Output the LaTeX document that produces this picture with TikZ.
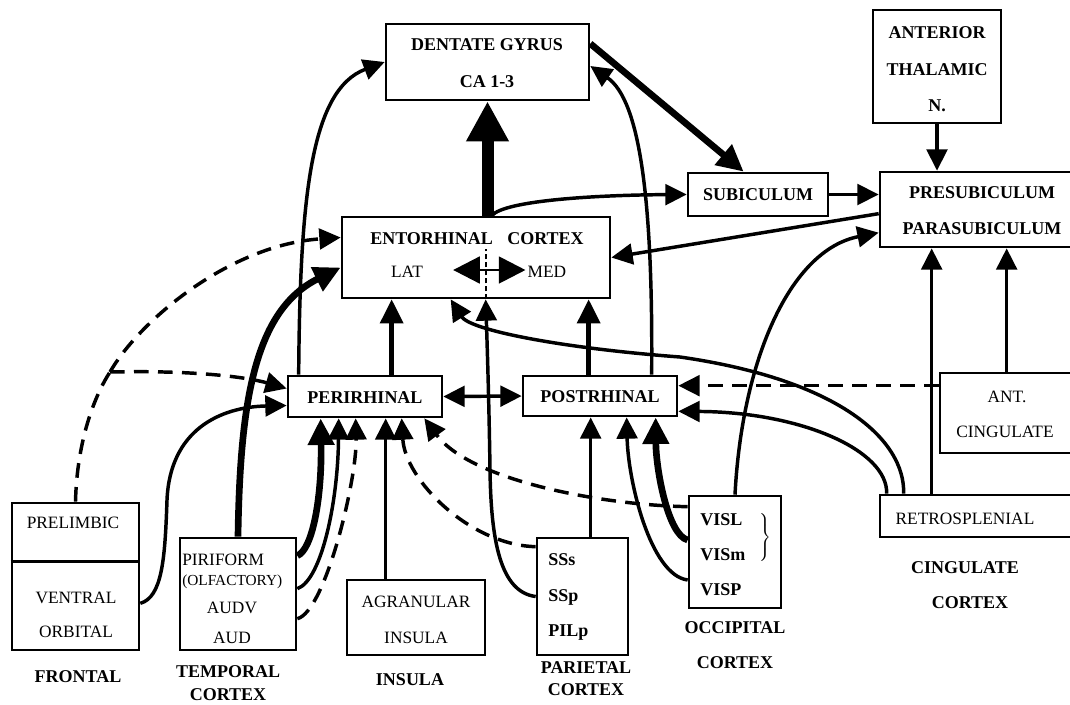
\documentclass[tikz,border=0pt]{standalone}
\usepackage{fontspec}
\setmainfont{Liberation Serif}
\usetikzlibrary{arrows.meta,calc,fit}

\begin{document}
\begin{tikzpicture}[x=0.75pt,y=-0.75pt,
  >={Triangle[length=16pt,width=15.5pt]},
  box/.style={draw,line width=2pt,inner sep=0pt},
  hd/.style={font=\fontsize{13.5}{15}\selectfont\bfseries,inner sep=0pt},
  tx/.style={font=\fontsize{13}{15}\selectfont,inner sep=0pt},
  sm/.style={font=\fontsize{11.5}{13}\selectfont,inner sep=0pt},
  ln/.style={line width=2.6pt,->},
  md/.style={line width=3.4pt,-{Triangle[length=18pt,width=17pt]}},
  tk/.style={line width=5pt,-{Triangle[length=20pt,width=19pt]}},
  hg/.style={line width=9pt,-{Triangle[length=30pt,width=30pt]}},
  dsh/.style={ln,dash pattern=on 11pt off 7pt}]

\useasboundingbox (0,0) rectangle (1070,704);
\fill[white] (0,0) rectangle (1070,704);
\clip (0,0) rectangle (1070,704);

% ---- boxes ----
\node[box,fit={(386,24) (589,100)}] (dg) {};
\node[box,fit={(873,10) (1001,123)}] (ath) {};
\node[box,fit={(688,173) (828,216)}] (sub) {};
\node[box,fit={(880,172) (1080,247)}] (pre) {};
\node[box,fit={(342,217) (610,298)}] (ec) {};
\node[box,fit={(288,376) (442,417)}] (per) {};
\node[box,fit={(523,376) (677,416)}] (pos) {};
\node[box,fit={(940,373) (1080,453)}] (ac) {};
\node[box,fit={(880,495) (1080,537)}] (rsp) {};
\node[box,fit={(12,503) (139,650)}] (pl) {};
\draw[line width=2pt] ($(pl.north west)+(0,60)$) -- ($(pl.north east)+(0,60)$);
\node[box,fit={(180,538) (296,650)}] (tmp) {};
\node[box,fit={(347,580) (485,655)}] (ins) {};
\node[box,fit={(537,538) (628,655)}] (par) {};
\node[box,fit={(689,496) (781,608)}] (occ) {};

% ---- texts ----
\node[hd] (dgA) at (487,45) {DENTATE GYRUS};
\node[hd] (dgB) at (487,82) {CA 1-3};
\node[hd] (athA) at (937,33) {ANTERIOR};
\node[hd] (athB) at (937,70) {THALAMIC};
\node[hd] (athC) at (937,106) {N.};
\node[hd] (subT) at (758,195) {SUBICULUM};
\node[hd] (preA) at (982,193) {PRESUBICULUM};
\node[hd] (preB) at (982,229) {PARASUBICULUM};
\node[hd] (ecT) at (477,239) {ENTORHINAL\hspace{0.8em}CORTEX};
\node[tx] (lat) at (407,272) {LAT};
\node[tx] (med) at (547,272) {MED};
\node[hd] (perT) at (365,398) {PERIRHINAL};
\node[hd] (posT) at (600,397) {POSTRHINAL};
\node[tx] (acA) at (1007,397) {ANT.};
\node[tx] (acB) at (1005,432) {CINGULATE};
\node[tx] (rspT) at (965,519) {RETROSPLENIAL};
\node[hd] (cinA) at (965,568) {CINGULATE};
\node[hd] (cinB) at (970,603) {CORTEX};
\node[tx] (plA) at (73,523) {PRELIMBIC};
\node[tx] (plB) at (76,598) {VENTRAL};
\node[tx] (plC) at (76,632) {ORBITAL};
\node[hd] (frl) at (78,677) {FRONTAL};
\node[tx,anchor=west] (tA) at (182,560) {PIRIFORM};
\node[sm,anchor=west] (tB) at (182,582) {(OLFACTORY)};
\node[tx] (tC) at (232,608) {AUDV};
\node[tx] (tD) at (232,638) {AUD};
\node[hd] (tmA) at (228,672) {TEMPORAL};
\node[hd] (tmB) at (228,695) {CORTEX};
\node[tx] (inA) at (416,602) {AGRANULAR};
\node[tx] (inB) at (416,638) {INSULA};
\node[hd] (inL) at (410,680) {INSULA};
\node[hd,anchor=west] (pA) at (548,560) {SSs};
\node[hd,anchor=west] (pB) at (548,597) {SSp};
\node[hd,anchor=west] (pC) at (548,633) {PILp};
\node[hd] (paA) at (586,668) {PARIETAL};
\node[hd] (paB) at (586,690) {CORTEX};
\node[hd,anchor=west] (oA) at (700,520) {VISL};
\node[hd,anchor=west] (oB) at (700,555) {VISm};
\node[hd,anchor=west] (oC) at (700,590) {VISP};
\node[inner sep=0pt] (brace) at (765,538) {$\left.\rule[-17pt]{0pt}{34pt}\right\}$};
\node[hd] (ocA) at (735,628) {OCCIPITAL};
\node[hd] (ocB) at (735,663) {CORTEX};

% ---- hippocampal core ----
\draw[hg] (ec.north -| dg.south) -- (dg.south);
\draw[tk] ($(dg.north east)+(0,21)$) -- ($(sub.north west)+(57,0)$);
\draw[ln] ($(ec.north west)+(151,0)$) .. controls (505,200) and (600,195) .. (sub.west);
\draw[ln] (sub.east) -- (sub.east -| pre.west);
\draw[ln] (ath.south) -- (ath.south |- pre.north);
\draw[ln] ($(pre.north west)+(0,43)$) -- (ec.east);
\draw[ln] (occ.north) .. controls (742,360) and (790,250) .. ($(pre.north west)+(0,62)$);
\draw[ln] ($(rsp.north west)+(53,0)$) -- ($(pre.south west)+(53,0)$);
\draw[ln] ($(ac.north west)+(68,0)$) -- ($(pre.south west)+(128,0)$);

% inside the entorhinal cortex
\draw[line width=2.2pt,{Triangle[length=20pt,width=20pt]}-{Triangle[length=20pt,width=20pt]}]
  ($(lat.east)+(30,-2)$) -- ($(med.west)+(-2,-2)$);
\draw[line width=1.5pt,dash pattern=on 4pt off 2pt] ($(ec.south west)+(145,0)$) -- ++(0,-50);

% ---- rhinal cortices ----
\draw[md] ($(per.north west)+(105,0)$) -- ($(ec.south west)+(51,0)$);
\draw[md] ($(pos.north west)+(67,0)$) -- ($(ec.south west)+(248,0)$);
\draw[ln,<->] (per.east) -- (pos.west);
\draw[ln] ($(per.north west)+(12,0)$) .. controls (300,200) and (310,90) .. (dg.west);
\draw[ln] ($(pos.north west)+(130,0)$) .. controls (653,200) and (640,100) .. ($(dg.east)+(0,4)$);

% ---- cingulate inputs ----
\draw[dsh] ($(ac.north west)+(0,14)$) -- ($(pos.north east)+(0,11)$);
\draw[ln] ($(rsp.north west)+(8,0)$) .. controls (888,450) and (800,412) .. ($(pos.south east)+(0,-6)$);
\draw[ln] ($(rsp.north west)+(25,0)$) .. controls (905,440) and (840,380) .. (680,357)
  .. controls (560,348) and (470,330) .. ($(ec.south west)+(110,0)$);

% ---- frontal inputs ----
\coordinate (fork) at (110,372);
\draw[dsh,-] (pl.north) .. controls (77,440) and (95,395) .. (fork);
\draw[dsh] (fork) .. controls (140,320) and (230,245) .. ($(ec.west)+(0,-20)$);
\draw[dsh] (fork) .. controls (200,370) and (250,378) .. ($(per.west)+(0,-8)$);
\draw[ln] ($(pl.south east)+(0,-48)$) .. controls (162,597) and (165,560) .. (167,500)
  .. controls (170,430) and (220,407) .. ($(per.west)+(0,9)$);

% ---- temporal and insular inputs ----
\draw[tk] (tmp.north) .. controls (240,400) and (255,310) .. ($(ec.west)+(0,10)$);
\draw[tk] ($(tmp.north east)+(0,19)$) .. controls (312,550) and (322,500) .. ($(per.south west)+(34,0)$);
\draw[ln] ($(tmp.north east)+(0,52)$) .. controls (322,580) and (338,500) .. ($(per.south west)+(52,0)$);
\draw[dsh] ($(tmp.north east)+(0,82)$) .. controls (325,612) and (357,480) .. ($(per.south west)+(69,0)$);
\draw[ln] ($(ins.north west)+(40,0)$) -- ($(per.south west)+(99,0)$);

% ---- parietal and occipital inputs ----
\draw[dsh] ($(par.north west)+(0,10)$) .. controls (470,545) and (405,480) .. ($(per.south west)+(115,0)$);
\draw[dsh] ($(occ.north west)+(0,12)$) .. controls (600,505) and (470,480) .. ($(per.south east)+(-19,0)$);
\draw[ln] (par.west) .. controls (500,592) and (491,540) .. (490,470)
  .. controls (489,400) and (487,340) .. ($(ec.south west)+(145,0)$);
\draw[ln] ($(par.north west)+(55,0)$) -- ($(pos.south west)+(69,0)$);
\draw[ln] ($(occ.west)+(0,28)$) .. controls (650,575) and (628,480) .. ($(pos.south west)+(105,0)$);
\draw[tk] ($(occ.west)+(0,-12)$) .. controls (668,535) and (656,470) .. ($(pos.south west)+(134,0)$);

\end{tikzpicture}
\end{document}
